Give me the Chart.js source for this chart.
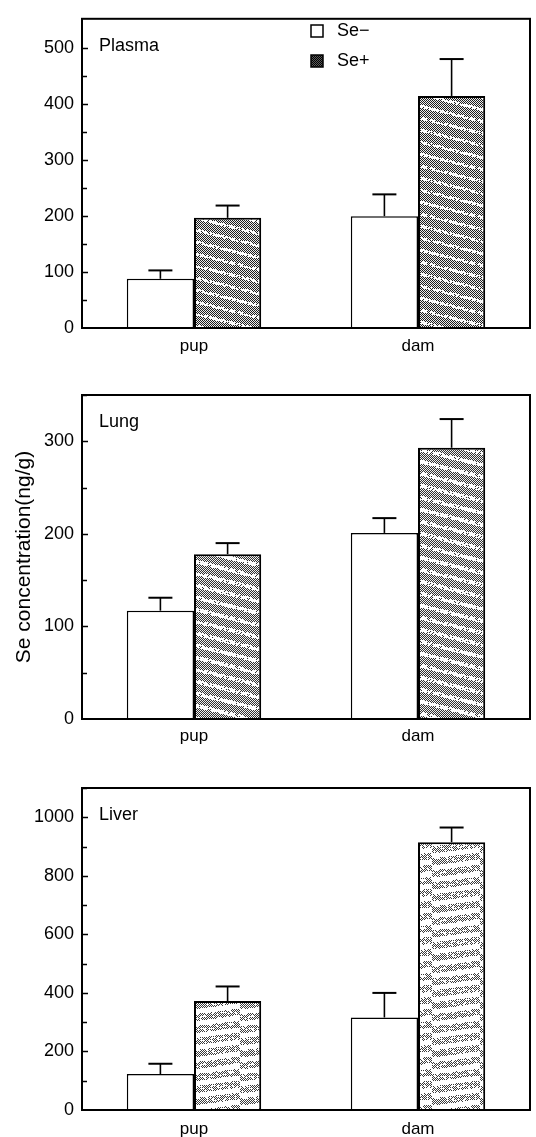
<!DOCTYPE html>
<html>
<head>
<meta charset="utf-8">
<script src="https://cdn.jsdelivr.net/npm/chart.js@4"></script>
<style>
    body { margin: 0; background: #fff; }
    #wrap { position: relative; width: 536px; height: 1137px; }
    canvas { position: absolute; left: 0; }
</style>
</head>
<body>
<div id="wrap">
    <canvas id="plasmaChart" width="536" height="364" style="top:0px"></canvas>
    <canvas id="lungChart" width="536" height="395" style="top:355px"></canvas>
    <canvas id="liverChart" width="536" height="392" style="top:745px"></canvas>
</div>
<script>
const groups = ['pup', 'dam'];
const seriesNames = ['Se\u2212', 'Se+'];

const plasmaMinus = [88, 200];
const plasmaMinusErr = [15, 39];
const plasmaPlus = [197, 415];
const plasmaPlusErr = [22, 66];

const lungMinus = [117, 201];
const lungMinusErr = [14, 16];
const lungPlus = [178, 293];
const lungPlusErr = [12, 31];

const liverMinus = [123, 316];
const liverMinusErr = [35, 84];
const liverPlus = [372, 915];
const liverPlusErr = [50, 50];

const yMax = [553, 350, 1100];
const yStep = [50, 50, 100];
const yLabelStep = [100, 100, 200];
const panelNames = ['Plasma', 'Lung', 'Liver'];
const yTitle = 'Se concentration(ng/g)';

Chart.defaults.font.family = '"Liberation Sans", Arial, sans-serif';
Chart.defaults.color = '#000';

const fontStr = '"Liberation Sans", Arial, sans-serif';

function speckle(x, y) {
    const s = Math.sin(x * 12.9898 + y * 78.233) * 43758.5453;
    return s - Math.floor(s);
}

// printed-looking dot screen with light patches
function makeStipple(dark, light, patch) {
    const n = 48;
    const tile = document.createElement('canvas');
    tile.width = n;
    tile.height = n;
    const c = tile.getContext('2d');
    const img = c.createImageData(n, n);
    for (let yy = 0; yy < n; yy++) {
        for (let xx = 0; xx < n; xx++) {
            const on = (xx + yy) % 2 === 0;
            let v = on ? dark : light;
            if (patch(xx, yy)) v = 255;
            const k = (yy * n + xx) * 4;
            img.data[k] = v;
            img.data[k + 1] = v;
            img.data[k + 2] = v;
            img.data[k + 3] = 255;
        }
    }
    c.putImageData(img, 0, 0);
    return c.createPattern(tile, 'repeat');
}

const panelDecor = {
    id: 'panelDecor',
    afterDatasetsDraw(chart, args, o) {
        const ctx = chart.ctx;
        const y = chart.scales.y;
        const area = chart.chartArea;
        ctx.save();
        ctx.strokeStyle = '#000';

        chart.data.datasets.forEach((ds, i) => {
            const meta = chart.getDatasetMeta(i);
            meta.data.forEach((bar, j) => {
                const top = y.getPixelForValue(ds.data[j] + ds.errors[j]);
                ctx.lineWidth = 1.6;
                ctx.beginPath();
                ctx.moveTo(bar.x, bar.y);
                ctx.lineTo(bar.x, top);
                ctx.stroke();
                ctx.lineWidth = 2;
                ctx.beginPath();
                ctx.moveTo(bar.x - 12, top);
                ctx.lineTo(bar.x + 12, top);
                ctx.stroke();
            });
        });

        ctx.lineWidth = 2;
        ctx.strokeRect(area.left, area.top, area.right - area.left, area.bottom - area.top);

        ctx.lineWidth = 1.5;
        y.ticks.forEach(t => {
            if (t.value % o.step !== 0 || t.value === 0) return;
            const py = Math.round(y.getPixelForValue(t.value)) + 0.5;
            const len = t.value % o.labelStep === 0 ? 6 : 5;
            ctx.beginPath();
            ctx.moveTo(area.left, py);
            ctx.lineTo(area.left + len, py);
            ctx.stroke();
        });

        ctx.fillStyle = '#000';
        ctx.textBaseline = 'middle';
        ctx.textAlign = 'left';
        ctx.font = '18px ' + fontStr;
        ctx.fillText(o.name, area.left + 17, area.top + 27);

        if (o.legend) {
            chart.data.datasets.forEach((ds, i) => {
                const rowY = 31 + i * 30;
                ctx.fillStyle = ds.legendFill;
                ctx.fillRect(311, rowY - 6, 12, 12);
                ctx.lineWidth = 1.5;
                ctx.strokeRect(311, rowY - 6, 12, 12);
                ctx.fillStyle = '#000';
                ctx.fillText(ds.label, 337, rowY);
            });
        }
        ctx.restore();
    }
};

const legendDark = makeStipple(0, 90, () => false);

function buildPanel(canvasId, idx, minus, minusErr, plus, plusErr, pattern, topPad, axisHeight, labelPad, showTitle) {
    const ctx = document.getElementById(canvasId).getContext('2d');
    return new Chart(ctx, {
        type: 'bar',
        data: {
            labels: groups,
            datasets: [{
                label: seriesNames[0],
                data: minus,
                errors: minusErr,
                backgroundColor: '#fff',
                legendFill: '#fff',
                borderColor: '#000',
                borderWidth: 1.5
            }, {
                label: seriesNames[1],
                data: plus,
                errors: plusErr,
                backgroundColor: pattern,
                legendFill: legendDark,
                borderColor: '#000',
                borderWidth: 2
            }]
        },
        options: {
            responsive: false,
            animation: false,
            devicePixelRatio: 1,
            layout: { padding: { top: topPad, right: 6, bottom: 0, left: 0 } },
            datasets: { bar: { categoryPercentage: 0.6, barPercentage: 1.0 } },
            scales: {
                x: {
                    grid: { display: false, drawTicks: false, tickLength: 0 },
                    border: { display: false },
                    ticks: { font: { size: 17 }, padding: labelPad },
                    afterFit: s => { s.height = axisHeight; }
                },
                y: {
                    min: 0,
                    max: yMax[idx],
                    grid: { display: false, drawTicks: false, tickLength: 0 },
                    border: { display: false },
                    ticks: {
                        stepSize: yStep[idx],
                        autoSkip: false,
                        padding: 8,
                        font: { size: 18 },
                        callback: v => (v % yLabelStep[idx] === 0 ? v : '')
                    },
                    title: {
                        display: showTitle,
                        text: yTitle,
                        font: { size: 21 },
                        padding: { top: 12 }
                    },
                    afterFit: s => { s.width = 82; }
                }
            },
            plugins: {
                legend: { display: false },
                tooltip: { enabled: false },
                panelDecor: {
                    name: panelNames[idx],
                    step: yStep[idx],
                    labelStep: yLabelStep[idx],
                    legend: idx === 0
                }
            }
        },
        plugins: [panelDecor]
    });
}

document.addEventListener('DOMContentLoaded', function () {
    const plasmaFill = makeStipple(30, 235, (x, y) => ((y - Math.floor(x / 4) + 48) % 12) < 3 && speckle(x, y) > 0.3);
    const lungFill = makeStipple(50, 240, (x, y) => ((y - Math.floor(x / 4) + 48) % 12) < 4 && speckle(x, y) > 0.25);
    const liverFill = makeStipple(60, 255, (x, y) => ((y + Math.floor(x / 8) + 48) % 12) < 5 || speckle(x, y) > 0.8);

    buildPanel('plasmaChart', 0, plasmaMinus, plasmaMinusErr, plasmaPlus, plasmaPlusErr, plasmaFill, 5, 36, 8, false);
    buildPanel('lungChart', 1, lungMinus, lungMinusErr, lungPlus, lungPlusErr, lungFill, 40, 31, 7, true);
    buildPanel('liverChart', 2, liverMinus, liverMinusErr, liverPlus, liverPlusErr, liverFill, 43, 27, 9, false);
});
</script>
</body>
</html>
